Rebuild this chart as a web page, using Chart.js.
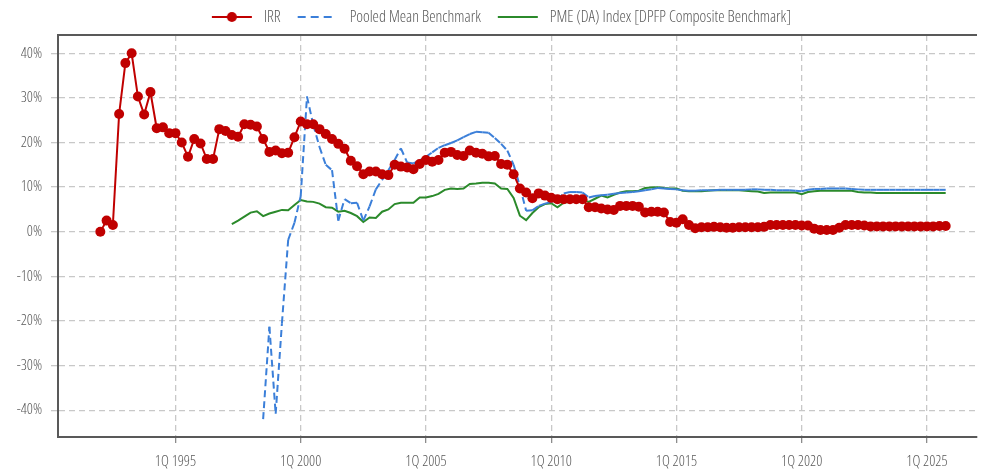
<!DOCTYPE html>
<html>
<head>
<meta charset="utf-8">
<script src="https://cdn.jsdelivr.net/npm/chart.js@4"></script>
<style>
  html, body { margin: 0; padding: 0; background: #fff; }
  #wrap { width: 982px; height: 472px; }
</style>
</head>
<body>
<div id="wrap"><canvas id="chart" width="982" height="472"></canvas></div>
<script>
// quarter categories 1Q 1992 .. 4Q 2025
const quarters = [];
for (let y = 1992; y <= 2025; y++) {
    for (let q = 1; q <= 4; q++) quarters.push(q + 'Q ' + y);
}
const xTickYears = [1995, 2000, 2005, 2010, 2015, 2020, 2025];
const yTicks = [-40, -30, -20, -10, 0, 10, 20, 30, 40];

// IRR (%) from 1Q 1992
const irrStart = '1Q 1992';
const irr = [
    0, 2.5, 1.5, 26.4,
    37.8, 40.0, 30.3, 26.3,
    31.3, 23.2, 23.4, 22.1,
    22.1, 20.0, 16.8, 20.8,
    19.8, 16.3, 16.3, 23.0,
    22.6, 21.7, 21.3, 24.1,
    24.0, 23.6, 20.8, 17.9,
    18.2, 17.6, 17.7, 21.2,
    24.7, 24.1, 24.1, 23.0,
    21.9, 20.8, 19.7, 18.6,
    15.9, 14.7, 12.9, 13.5,
    13.5, 12.9, 12.7, 15.0,
    14.6, 14.4, 14.0, 15.2,
    16.1, 15.7, 16.1, 17.7,
    17.9, 17.2, 17.0, 18.2,
    17.7, 17.5, 16.9, 17.0,
    15.2, 15.0, 12.9, 9.7,
    8.8, 7.5, 8.6, 8.1,
    7.6, 7.3, 7.3, 7.3,
    7.3, 7.3, 5.5, 5.5,
    5.2, 5.0, 4.9, 5.8,
    5.8, 5.8, 5.6, 4.3,
    4.5, 4.5, 4.3, 2.2,
    2.0, 2.8, 1.5, 0.8,
    1.0, 1.0, 1.1, 1.0,
    0.9, 0.9, 1.0, 1.0,
    1.0, 1.0, 1.1, 1.5,
    1.5, 1.5, 1.5, 1.5,
    1.4, 1.4, 0.7, 0.4,
    0.4, 0.4, 0.9, 1.5,
    1.5, 1.5, 1.4, 1.2,
    1.2, 1.2, 1.2, 1.2,
    1.2, 1.2, 1.2, 1.2,
    1.2, 1.2, 1.3, 1.3
];

// Pooled Mean Benchmark (%) from 3Q 1998
const pooledStart = '3Q 1998';
const pooledMean = [
    -42.0, -21.3,
    -40.8, -20.5, -1.8, 2.0,
    8.0, 30.3, 24.0, 19.0,
    15.0, 13.8, 2.5, 7.3,
    6.4, 6.5, 2.5, 5.7,
    9.5, 11.6, 13.8, 16.1,
    18.7, 15.5, 15.3, 16.0,
    16.8, 17.8, 18.8, 19.4,
    19.9, 20.5, 21.2, 21.9,
    22.4, 22.3, 22.2, 21.0,
    19.7, 18.2, 15.0, 10.2,
    4.7, 4.8, 5.8, 6.3,
    6.7, 7.2, 8.6, 8.9,
    8.9, 8.8, 7.7, 8.0,
    8.2, 8.3, 8.5, 8.7,
    8.8, 8.9, 9.1, 9.3,
    9.5, 9.8, 9.7, 9.6,
    9.5, 9.3, 9.2, 9.2,
    9.3, 9.3, 9.3, 9.4,
    9.4, 9.4, 9.4, 9.4,
    9.5, 9.5, 9.4, 9.4,
    9.3, 9.3, 9.3, 9.2,
    9.1, 9.4, 9.6, 9.6,
    9.7, 9.7, 9.7, 9.7,
    9.6, 9.5, 9.4, 9.4,
    9.4, 9.4, 9.4, 9.4,
    9.4, 9.4, 9.4, 9.4,
    9.4, 9.4, 9.4, 9.4
];

// PME (DA) Index (%) from 2Q 1997
const pmeStart = '2Q 1997';
const pme = [
    1.7, 2.5, 3.4,
    4.3, 4.6, 3.5, 4.1,
    4.5, 4.9, 4.8, 6.0,
    7.1, 6.8, 6.7, 6.3,
    5.5, 5.4, 4.5, 4.7,
    4.2, 3.5, 2.2, 3.2,
    3.1, 4.5, 5.0, 6.2,
    6.5, 6.5, 6.5, 7.7,
    7.7, 8.0, 8.5, 9.4,
    9.7, 9.6, 9.7, 10.7,
    10.8, 11.0, 11.0, 10.8,
    9.7, 9.6, 7.6, 3.6,
    2.6, 4.2, 5.5, 6.2,
    6.4, 5.5, 6.5, 6.7,
    7.0, 7.1, 6.7, 7.4,
    8.1, 7.7, 8.3, 8.8,
    9.1, 9.1, 9.2, 9.8,
    9.9, 10.0, 9.8, 9.7,
    9.7, 9.2, 9.1, 9.1,
    9.1, 9.2, 9.3, 9.3,
    9.3, 9.3, 9.3, 9.2,
    9.1, 9.0, 8.7, 8.8,
    8.8, 8.8, 8.8, 8.8,
    8.4, 8.9, 9.1, 9.2,
    9.2, 9.2, 9.2, 9.2,
    9.2, 8.9, 8.8, 8.8,
    8.7, 8.7, 8.7, 8.7,
    8.7, 8.7, 8.7, 8.7,
    8.7, 8.7, 8.7, 8.7
];

const RED = '#c00000';
const BLUE = '#3b7fd9';
const GREEN = '#2b8a2b';
const TEXT = '#595959';
const FONT = "'Open Sans', 'Noto Sans', sans-serif";
const FONT_WEIGHT = '300 condensed';

// "1Q 1995" -> 1995.0
function quarterPos(label) {
    const q = parseInt(label[0]);
    const y = parseInt(label.slice(3));
    return y + (q - 1) / 4;
}

function toPoints(values, startLabel) {
    const i0 = quarters.indexOf(startLabel);
    return values.map((v, i) => ({ x: quarterPos(quarters[i0 + i]), y: v }));
}

// legend markers
function marker(draw) {
    const c = document.createElement('canvas');
    c.width = 52;
    c.height = 14;
    const g = c.getContext('2d');
    draw(g);
    return c;
}
const irrMarker = marker(g => {
    g.strokeStyle = RED; g.lineWidth = 2;
    g.beginPath(); g.moveTo(8, 7); g.lineTo(48, 7); g.stroke();
    g.fillStyle = RED;
    g.beginPath(); g.arc(28, 7, 5, 0, Math.PI * 2); g.fill();
});
const pooledMarker = marker(g => {
    g.strokeStyle = BLUE; g.lineWidth = 2; g.setLineDash([8, 5]);
    g.beginPath(); g.moveTo(8, 7); g.lineTo(44, 7); g.stroke();
});
const pmeMarker = marker(g => {
    g.strokeStyle = GREEN; g.lineWidth = 2;
    g.beginPath(); g.moveTo(8, 7); g.lineTo(48, 7); g.stroke();
});
const markers = [irrMarker, pooledMarker, pmeMarker];

// top border of the plot
const topBorder = {
    id: 'topBorder',
    beforeDatasetsDraw(chart) {
        const { ctx, chartArea } = chart;
        ctx.save();
        ctx.strokeStyle = TEXT;
        ctx.lineWidth = 2;
        ctx.beginPath();
        ctx.moveTo(chartArea.left, chartArea.top);
        ctx.lineTo(chartArea.right, chartArea.top);
        ctx.stroke();
        ctx.restore();
    }
};

Chart.defaults.font.family = FONT;
Chart.defaults.font.weight = FONT_WEIGHT;
Chart.defaults.color = TEXT;

new Chart(document.getElementById('chart'), {
    type: 'line',
    data: {
        datasets: [
            {
                label: 'IRR',
                data: toPoints(irr, irrStart),
                borderColor: RED,
                backgroundColor: RED,
                borderWidth: 2,
                pointRadius: 5,
                pointBorderWidth: 0,
                pointBackgroundColor: RED
            },
            {
                label: 'Pooled Mean Benchmark',
                data: toPoints(pooledMean, pooledStart),
                borderColor: BLUE,
                borderWidth: 2,
                borderDash: [7, 4],
                pointRadius: 0,
                // stroke each segment on its own so the dash restarts per quarter
                segment: { borderDashOffset: c => (c.p0DataIndex % 2 ? 0.01 : 0) }
            },
            {
                label: 'PME (DA) Index [DPFP Composite Benchmark]',
                data: toPoints(pme, pmeStart),
                borderColor: GREEN,
                borderWidth: 2,
                pointRadius: 0
            }
        ]
    },
    options: {
        responsive: false,
        animation: false,
        layout: { padding: { top: 0, right: 1, left: 14, bottom: 0 } },
        plugins: {
            tooltip: { enabled: false },
            legend: {
                position: 'top',
                labels: {
                    usePointStyle: true,
                    pointStyleWidth: 52,
                    padding: 9,
                    color: TEXT,
                    font: { size: 16, weight: FONT_WEIGHT },
                    generateLabels(chart) {
                        return chart.data.datasets.map((ds, i) => ({
                            text: ds.label,
                            pointStyle: markers[i],
                            fontColor: TEXT,
                            lineWidth: 0,
                            strokeStyle: 'transparent',
                            fillStyle: 'transparent',
                            datasetIndex: i
                        }));
                    }
                }
            }
        },
        scales: {
            x: {
                type: 'linear',
                min: 1990.31,
                max: 2027.0,
                afterBuildTicks: s => { s.ticks = xTickYears.map(v => ({ value: v })); },
                afterFit: s => { s.height = 35; },
                ticks: {
                    callback: v => '1Q ' + v,
                    font: { size: 15, weight: FONT_WEIGHT },
                    color: TEXT,
                    padding: 10,
                    maxRotation: 0,
                    autoSkip: false
                },
                grid: {
                    color: '#c8c8c8',
                    lineWidth: 1.3,
                    tickColor: '#8c8c8c',
                    tickLength: 6,
                    tickBorderDash: []
                },
                border: { color: TEXT, width: 2, dash: [6, 4] }
            },
            y: {
                min: -46,
                max: 44.1,
                afterBuildTicks: s => { s.ticks = yTicks.map(v => ({ value: v })); },
                // plot starts at x=58 (14 padding + 44 axis)
                afterFit: s => { s.width = 44; },
                ticks: {
                    callback: v => v + '%',
                    font: { size: 15, weight: FONT_WEIGHT },
                    color: TEXT,
                    padding: 9
                },
                grid: {
                    color: '#c8c8c8',
                    lineWidth: 1.3,
                    tickLength: 7,
                    tickBorderDash: [6, 4]
                },
                border: { color: TEXT, width: 2, dash: [6, 4] }
            }
        }
    },
    plugins: [topBorder]
});
</script>
</body>
</html>
